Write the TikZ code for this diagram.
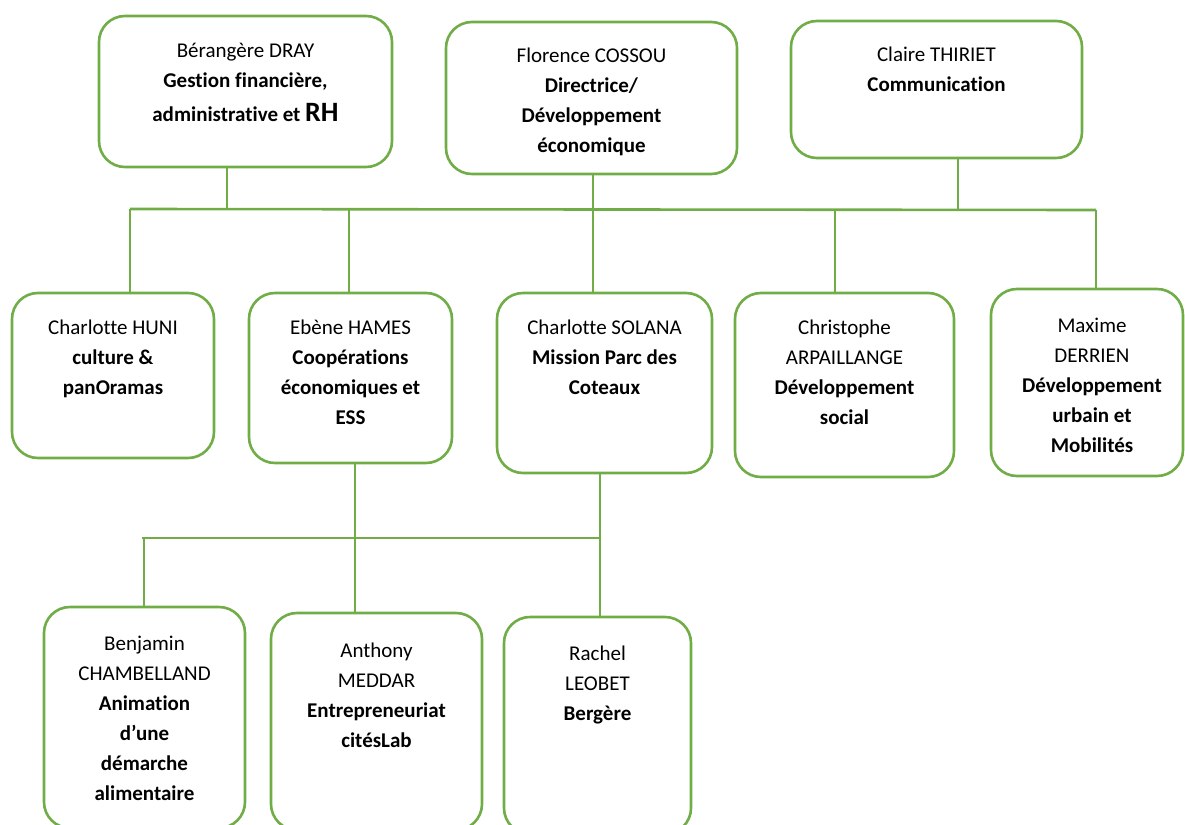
\documentclass[tikz,border=0pt]{standalone}
\usepackage{fontspec}
\setmainfont{Carlito}[Ligatures=NoCommon]
\usetikzlibrary{calc}
\definecolor{leaf}{RGB}{112,173,71}
\begin{document}
\begin{tikzpicture}[x=1pt,y=-1pt,
  card/.style={draw=leaf,line width=2.6pt,rounded corners=26pt,inner sep=0pt,outer sep=0pt},
  link/.style={draw=leaf,line width=2.6pt},
  txt/.style={anchor=north,align=center,inner sep=0pt,text=black,font=\fontsize{21}{30}\selectfont}]
\path[use as bounding box,clip] (0,0) rectangle (1185,824);

% top row
\node[card,minimum width=293pt,minimum height=151pt] (b1) at (245.5,91.5) {};
\node[card,minimum width=291pt,minimum height=152pt] (b2) at (591.5,98) {};
\node[card,minimum width=291pt,minimum height=137pt] (b3) at (936.5,89.5) {};

% middle row
\node[card,minimum width=202pt,minimum height=165pt] (m1) at (113,375.5) {};
\node[card,minimum width=203pt,minimum height=170pt] (m2) at (350.5,378) {};
\node[card,minimum width=215pt,minimum height=180pt] (m3) at (604.5,383) {};
\node[card,minimum width=219pt,minimum height=184pt] (m4) at (844.5,385) {};
\node[card,minimum width=192pt,minimum height=187pt] (m5) at (1087,382.5) {};

% bottom row (runs just past the lower edge)
\node[card,minimum width=201pt,minimum height=221pt] (l1) at (144.5,717.5) {};
\node[card,minimum width=211pt,minimum height=217pt] (l2) at (376.5,721.5) {};
\node[card,minimum width=187pt,minimum height=217pt] (l3) at (597.5,725.5) {};

% texts
\node[txt] (t1) at ([yshift=-20pt]b1.north) {\strut Bérangère DRAY\\ \textbf{Gestion financière,}\\[4pt] \textbf{administrative et {\fontsize{28}{30}\selectfont RH}}};
\node[txt] (t2) at ([yshift=-19pt]b2.north) {\strut Florence COSSOU\\ \textbf{Directrice/}\\ \textbf{Développement}\\ \textbf{économique}};
\node[txt] (t3) at ([yshift=-19pt]b3.north) {\strut Claire THIRIET\\ \textbf{Communication}};

\node[txt] (u1) at ([yshift=-20pt]m1.north) {\strut Charlotte HUNI\\ \textbf{culture \&}\\ \textbf{panOramas}};
\node[txt] (u2) at ([yshift=-20pt]m2.north) {\strut Ebène HAMES\\ \textbf{Coopérations}\\ \textbf{économiques et}\\ \textbf{ESS}};
\node[txt] (u3) at ([yshift=-20pt]m3.north) {\strut Charlotte SOLANA\\ \textbf{Mission Parc des}\\ \textbf{Coteaux}};
\node[txt] (u4) at ([yshift=-20pt]m4.north) {\strut Christophe\\ ARPAILLANGE\\ \textbf{Développement}\\ \textbf{social}};
\node[txt] (u5) at ([xshift=5pt,yshift=-22pt]m5.north) {\strut Maxime\\ DERRIEN\\ \textbf{Développement}\\ \textbf{urbain et}\\ \textbf{Mobilités}};

\node[txt] (v1) at ([yshift=-22pt]l1.north) {\strut Benjamin\\ CHAMBELLAND\\ \textbf{Animation}\\ \textbf{d’une}\\ \textbf{démarche}\\ \textbf{alimentaire}};
\node[txt] (v2) at ([yshift=-23pt]l2.north) {\strut Anthony\\ MEDDAR\\ \textbf{Entrepreneuriat}\\ \textbf{citésLab}};
\node[txt] (v3) at ([yshift=-22pt]l3.north) {\strut Rachel\\ LEOBET\\ \textbf{Bergère}};

% upper bus
\coordinate (busL) at (130,209);
\coordinate (busR) at (1096,210);
\draw[link] (busL) -- (busR);
\coordinate (s1) at ([xshift=-18.5pt]b1.south);
\draw[link] (s1) -- (s1 |- busL);
\coordinate (s2) at ([xshift=1.5pt]b2.south);
\draw[link] (s2) -- (s2 |- m3.north);
\coordinate (s3) at ([xshift=21.5pt]b3.south);
\draw[link] (s3) -- (s3 |- busR);
\draw[link] (busL) -- (busL |- m1.north);
\coordinate (j2) at (349,209);
\draw[link] (j2) -- (j2 |- m2.north);
\coordinate (j4) at (835,209.5);
\draw[link] (j4) -- (j4 |- m4.north);
\draw[link] (busR) -- (busR |- m5.north);

% lower bus
\coordinate (s5) at ([xshift=4.5pt]m2.south);
\draw[link] (s5) -- (s5 |- l2.north);
\coordinate (s6) at ([xshift=-4.5pt]m3.south);
\draw[link] (s6) -- (s6 |- l3.north);
\coordinate (lowL) at (142,538);
\draw[link] (lowL) -- (lowL -| s6);
\coordinate (j6) at (144,538);
\draw[link] (j6) -- (j6 |- l1.north);
\end{tikzpicture}
\end{document}
